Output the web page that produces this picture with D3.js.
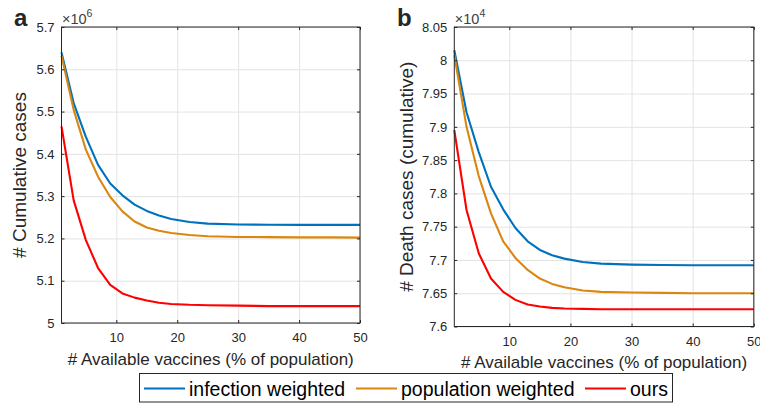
<!DOCTYPE html>
<html>
<head>
<meta charset="utf-8">
<script src="https://cdn.jsdelivr.net/npm/d3@7"></script>
<style>
  body { margin: 0; background: #fff; }
  svg { font-family: "Liberation Sans", Arial, sans-serif; }
  .grid line { stroke: #e3e3e3; stroke-width: 1; }
  .grid path { display: none; }
  .ax path { display: none; }
  .ax line { stroke: #262626; }
  .ax text { fill: #262626; font-size: 13px; }
</style>
</head>
<body>
<div id="chart"></div>
<script>
// vaccines available (% of population)
const vaccinePct = [1, 3, 5, 7, 9, 11, 13, 15, 17, 19, 22, 25, 30, 35, 40, 45, 50];

// cumulative cases (x10^6)
const casesInfection = [5.64, 5.52, 5.44, 5.374, 5.33, 5.302, 5.28, 5.265, 5.254, 5.246, 5.239, 5.235, 5.233, 5.2325, 5.232, 5.232, 5.232];
const casesPopulation = [5.632, 5.504, 5.41, 5.346, 5.298, 5.264, 5.24, 5.226, 5.218, 5.213, 5.208, 5.205, 5.2035, 5.203, 5.2025, 5.2025, 5.202];
const casesOurs = [5.465, 5.29, 5.196, 5.13, 5.09, 5.07, 5.06, 5.053, 5.048, 5.045, 5.043, 5.042, 5.041, 5.04, 5.04, 5.04, 5.04];

// death cases (x10^4)
const deathsInfection = [8.015, 7.922, 7.862, 7.81, 7.776, 7.748, 7.728, 7.715, 7.707, 7.702, 7.697, 7.6945, 7.693, 7.6925, 7.692, 7.692, 7.692];
const deathsPopulation = [8.008, 7.9, 7.826, 7.77, 7.728, 7.703, 7.685, 7.672, 7.664, 7.659, 7.654, 7.652, 7.651, 7.6505, 7.65, 7.65, 7.65];
const deathsOurs = [7.895, 7.775, 7.71, 7.672, 7.652, 7.64, 7.633, 7.63, 7.628, 7.627, 7.6265, 7.626, 7.626, 7.626, 7.626, 7.626, 7.626];

const xTicks = [10, 20, 30, 40, 50];
const casesTicks = [5, 5.1, 5.2, 5.3, 5.4, 5.5, 5.6, 5.7];
const deathTicks = [7.6, 7.65, 7.7, 7.75, 7.8, 7.85, 7.9, 7.95, 8, 8.05];

const seriesNames = ["infection weighted", "population weighted", "ours"];
const seriesColors = ["#0072bd", "#db860f", "#ff0000"];

const svg = d3
  .select("#chart")
  .append("svg")
  .attr("width", 760)
  .attr("height", 404);

function drawPanel(p) {
  const g = svg.append("g").attr("transform", `translate(${p.left}, ${p.top})`);

  const x = d3.scaleLinear().domain([1, 50]).range([0, p.width]);
  const y = d3.scaleLinear().domain(p.yDomain).range([p.height, 0]);

  // grid
  g.append("g")
    .attr("class", "grid")
    .attr("transform", `translate(0, ${p.height})`)
    .call(d3.axisBottom(x).tickValues(xTicks).tickSize(-p.height).tickFormat(""));
  g.append("g")
    .attr("class", "grid")
    .call(d3.axisLeft(y).tickValues(p.yTicks).tickSize(-p.width).tickFormat(""));

  // lines
  const line = d3
    .line()
    .x((d, i) => x(vaccinePct[i]))
    .y((d) => y(d));
  p.series.forEach((s, i) => {
    g.append("path")
      .datum(s)
      .attr("fill", "none")
      .attr("stroke", seriesColors[i])
      .attr("stroke-width", 2.1)
      .attr("stroke-linejoin", "round")
      .attr("d", line);
  });

  // axes, inward ticks on all sides (matlab box)
  g.append("g")
    .attr("class", "ax")
    .attr("transform", `translate(0, ${p.height})`)
    .call(d3.axisBottom(x).tickValues(xTicks).tickSizeInner(-3).tickSizeOuter(0).tickPadding(10));
  g.append("g")
    .attr("class", "ax")
    .call(d3.axisTop(x).tickValues(xTicks).tickSizeInner(-3).tickSizeOuter(0).tickFormat(""));
  g.append("g")
    .attr("class", "ax")
    .call(d3.axisLeft(y).tickValues(p.yTicks).tickSizeInner(-3).tickSizeOuter(0).tickPadding(7).tickFormat(d3.format("~g")));
  g.append("g")
    .attr("class", "ax")
    .attr("transform", `translate(${p.width}, 0)`)
    .call(d3.axisRight(y).tickValues(p.yTicks).tickSizeInner(-3).tickSizeOuter(0).tickFormat(""));

  g.append("rect")
    .attr("width", p.width)
    .attr("height", p.height)
    .attr("fill", "none")
    .attr("stroke", "#262626")
    .attr("stroke-width", 1);

  // exponent
  const ex = g.append("text")
    .attr("x", 0.5)
    .attr("y", -3.5)
    .attr("fill", "#404040")
    .attr("font-size", "14.5px");
  ex.append("tspan").text("\u00d710");
  ex.append("tspan").attr("font-size", "10.5px").attr("dy", -7).text(p.exponent);

  // axis labels
  g.append("text")
    .attr("x", p.width / 2)
    .attr("y", p.height + 41.5)
    .attr("text-anchor", "middle")
    .attr("fill", "#262626")
    .attr("font-size", "17px")
    .text("# Available vaccines (% of population)");

  g.append("text")
    .attr("transform", `translate(${p.yLabelX}, ${p.height / 2}) rotate(-90)`)
    .attr("text-anchor", "middle")
    .attr("fill", "#262626")
    .attr("font-size", "19px")
    .text(p.yLabel);

  svg.append("text")
    .attr("x", p.tagX)
    .attr("y", 26)
    .attr("font-size", "24px")
    .attr("font-weight", "bold")
    .attr("fill", "#262626")
    .text(p.tag);
}

drawPanel({
  left: 61.5, top: 27, width: 298.5, height: 296,
  yDomain: [5, 5.7], yTicks: casesTicks, exponent: "6",
  series: [casesInfection, casesPopulation, casesOurs],
  yLabel: "# Cumulative cases", yLabelX: -35.5,
  tag: "a", tagX: 14
});

drawPanel({
  left: 454.3, top: 27, width: 299.5, height: 299.5,
  yDomain: [7.6, 8.05], yTicks: deathTicks, exponent: "4",
  series: [deathsInfection, deathsPopulation, deathsOurs],
  yLabel: "# Death cases (cumulative)", yLabelX: -41.3,
  tag: "b", tagX: 397
});

// legend
const legend = svg.append("g").attr("transform", "translate(139.5, 373.5)");
legend.append("rect")
  .attr("width", 533)
  .attr("height", 28.5)
  .attr("fill", "#fff")
  .attr("stroke", "#262626")
  .attr("stroke-width", 1);

const legendX = [4.5, 216.5, 445.5];
seriesNames.forEach((name, i) => {
  legend.append("line")
    .attr("x1", legendX[i])
    .attr("x2", legendX[i] + 41)
    .attr("y1", 15)
    .attr("y2", 15)
    .attr("stroke", seriesColors[i])
    .attr("stroke-width", 2.1);
  legend.append("text")
    .attr("x", legendX[i] + 45)
    .attr("y", 22.5)
    .attr("font-size", "19.5px")
    .attr("fill", "#000")
    .text(name);
});
</script>
</body>
</html>
